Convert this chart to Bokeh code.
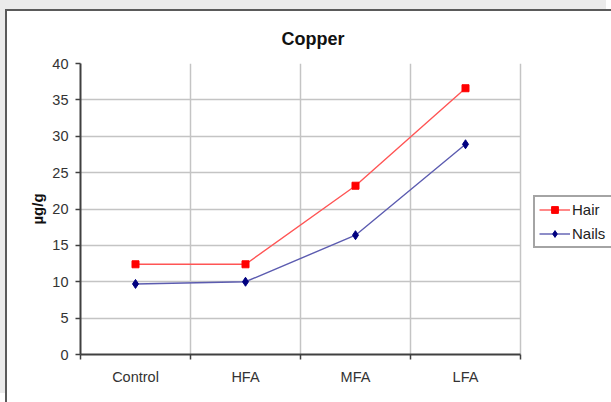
from bokeh.plotting import figure
from bokeh.models import Range1d, FixedTicker, Legend, LegendItem, ColumnDataSource
from bokeh.embed import file_html
from bokeh.resources import INLINE

categories = ["Control", "HFA", "MFA", "LFA"]
hair = [12.4, 12.4, 23.2, 36.6]
nails = [9.7, 10.0, 16.4, 28.9]
y_ticks = [0, 5, 10, 15, 20, 25, 30, 35, 40]

FONT = "Liberation Sans"
N = len(categories)
# the frame extends to the right edge so that the legend can sit inside it;
# the plot area proper covers x in [0, N]
X_END = N * 533 / 440

xs = [i + 0.5 for i in range(N)]
src = ColumnDataSource(dict(x=xs, hair=hair, nails=nails))

p = figure(width=606, height=393, output_backend="svg", toolbar_location=None,
           x_range=Range1d(0, X_END), y_range=Range1d(0, 40),
           min_border_left=73, min_border_right=0, min_border_top=52,
           min_border_bottom=50, border_fill_color="white",
           background_fill_color="white", outline_line_color=None,
           margin=(9, 0, 0, 5),
           styles={"border-left": "2px solid #5a5a5a",
                   "border-top": "2px solid #5a5a5a",
                   "box-shadow": "-5px -9px 0 0 #ebebeb"})

p.title.text = "Copper"
p.title.text_font = FONT
p.title.text_font_size = "18px"
p.title.text_font_style = "bold"
p.title.text_color = "#111111"
p.title.align = "left"
p.title.offset = 201
p.title.standoff = 29

# x axis: labels at category centres, ticks/grid at boundaries
p.xaxis.ticker = FixedTicker(ticks=xs, minor_ticks=list(range(N + 1)))
p.xaxis.major_label_overrides = {x: c for x, c in zip(xs, categories)}
p.xaxis.bounds = (0, N)
p.xaxis.major_tick_out = 0
p.xaxis.major_tick_in = 0
p.xaxis.minor_tick_out = 5
p.xaxis.minor_tick_in = 0
p.xaxis.minor_tick_line_color = "#404040"
p.xaxis.minor_tick_line_width = 1.5
p.xaxis.major_label_standoff = 9
p.xgrid.grid_line_color = None
p.xgrid.minor_grid_line_color = "#c4c4c4"
p.xgrid.minor_grid_line_width = 1.5

p.yaxis.ticker = FixedTicker(ticks=y_ticks, minor_ticks=[])
p.yaxis.major_tick_out = 5
p.yaxis.major_tick_in = 0
p.yaxis.major_label_standoff = 7
p.yaxis.axis_label = "µg/g"
p.yaxis.axis_label_text_font = FONT
p.yaxis.axis_label_text_font_size = "15px"
p.yaxis.axis_label_text_font_style = "bold"
p.yaxis.axis_label_text_color = "#111111"
p.yaxis.axis_label_standoff = 3
p.ygrid.grid_line_color = "#c4c4c4"
p.ygrid.grid_line_width = 1.5
p.ygrid.cross_bounds = (0, N)

for ax in (p.xaxis, p.yaxis):
    ax.axis_line_color = "#404040"
    ax.axis_line_width = 2
    ax.major_tick_line_color = "#404040"
    ax.major_tick_line_width = 1.5
    ax.major_label_text_font = FONT
    ax.major_label_text_font_size = "14.5px"
    ax.major_label_text_color = "#333333"

l1 = p.line("x", "hair", source=src, line_color="#ff5555", line_width=1.4)
m1 = p.scatter("x", "hair", source=src, marker="square", size=7,
               fill_color="#ff0000", line_color="#ff0000")
l2 = p.line("x", "nails", source=src, line_color="#5c5cb0", line_width=1.4)
m2 = p.scatter("x", "nails", source=src, marker="diamond", size=9,
               fill_color="#000080", line_color="#000080")

legend = Legend(items=[LegendItem(label="Hair", renderers=[l1, m1]),
                       LegendItem(label="Nails", renderers=[l2, m2])],
                location=(453, 106), glyph_width=31, glyph_height=17,
                label_height=17, label_width=37, label_standoff=2, padding=4,
                spacing=7, margin=0, border_line_color="#4a4a4a",
                border_line_width=2, background_fill_color="white",
                background_fill_alpha=1, label_text_font=FONT,
                label_text_font_size="15px", label_text_color="#222222")
p.add_layout(legend, "center")

open("out.html", "w").write(file_html(p, INLINE))
